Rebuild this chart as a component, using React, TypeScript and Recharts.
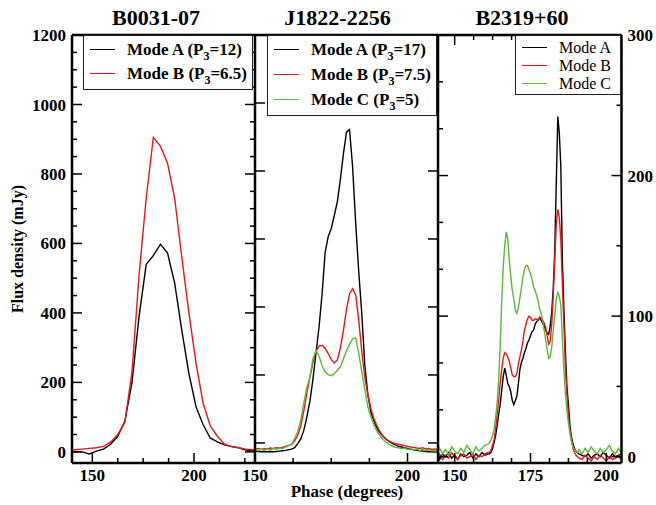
import React from 'react'
import { LineChart, Line, XAxis, YAxis, ReferenceLine } from 'recharts'

const W = 656
const H = 505
const FONT = '"Liberation Serif", "Times New Roman", serif'
const BLACK = '#000000'
const RED = '#e8161c'
const GREEN = '#5cb83a'

// B0031-07 (coarse profile)
const phase1 = [138, 141.5, 145, 148.5, 152, 155.5, 159, 162.5, 166, 169.5, 173, 176.5, 180, 183.5, 187, 190.5, 194, 197.5, 201, 204.5, 208, 211.5, 215, 218.5, 222, 225.5, 229, 230]
const b0031A = [2, 0, 0, -6, 2, 8, 22, 45, 88, 200, 390, 540, 565, 598, 572, 486, 350, 225, 130, 78, 40, 29, 20, 15, 12, 5, 3, 3]
const b0031B = [4, 6, 8, 10, 12, 16, 28, 50, 85, 230, 510, 730, 905, 880, 830, 730, 560, 400, 255, 140, 75, 45, 22, 15, 12, 8, 6, 6]

// J1822-2256
const phase2 = [150, 151, 152, 153, 154, 155, 156, 157, 158, 159, 160, 161, 162, 163, 164, 165, 166, 167, 168, 169, 170, 171, 172, 173, 174, 175, 176, 177, 178, 179, 180, 181, 182, 183, 184, 185, 186, 187, 188, 189, 190, 191, 192, 193, 194, 195, 196, 197, 198, 199, 200, 201, 202, 203, 204, 205, 206, 207, 208, 209, 210]
const j1822A = [-24, -25, -26, -25, -26, -25, -26, -25, -24, -23, -22, -20, -18, -14, -2, 12, 37, 76, 122, 188, 265, 341, 439, 561, 607, 631, 669, 710, 776, 852, 914, 922, 812, 648, 505, 382, 229, 142, 91, 64, 43, 30, 20, 11, 4, -1, -6, -10, -12, -14, -16, -18, -20, -22, -23, -24, -25, -26, -26, -27, -27]
const j1822B = [-18, -16, -19, -17, -18, -15, -17, -14, -15, -13, -10, -7, -4, 6, 23, 50, 94, 147, 193, 237, 270, 285, 287, 278, 263, 245, 235, 244, 280, 331, 393, 439, 454, 436, 362, 270, 193, 142, 101, 71, 50, 33, 20, 11, 5, 1, -2, -4, -6, -8, -10, -12, -13, -15, -16, -14, -18, -17, -19, -18, -20]
const j1822C = [-20, -23, -18, -22, -17, -21, -16, -19, -15, -17, -12, -8, -4, 13, 33, 66, 117, 163, 193, 248, 272, 255, 227, 209, 201, 198, 204, 214, 224, 248, 272, 290, 306, 309, 265, 209, 158, 106, 76, 53, 35, 21, 10, 2, -5, -9, -13, -14, -17, -15, -19, -17, -21, -18, -22, -19, -23, -20, -24, -21, -23]

// B2319+60
const phase3 = [
  144.5, 145, 146, 147, 148, 149, 150, 151, 152, 153, 154, 155, 156, 157, 158, 159, 160, 161,
  161.5, 162, 162.5, 163, 163.5, 164, 164.5, 165, 165.5, 166,
  166.5, 167, 167.5, 168, 168.5, 169, 169.5, 170, 170.5, 171,
  171.5, 172, 172.5, 173, 173.5, 174, 174.5, 175, 175.5, 176,
  176.5, 177, 177.5, 178, 178.5, 179, 179.5, 180, 180.5, 181,
  181.5, 182, 182.5, 183, 183.5, 184, 184.5, 185, 185.5, 186,
  186.5, 187, 187.5, 188, 188.5, 189, 189.5, 190, 190.5, 191,
  192, 193, 194, 195, 196, 197, 198, 199, 200, 201, 202, 203, 204, 205,
]
const b2319A = [
  1, -2, 2, 0, 3, -1, 1, -2, 2, 0, 1, 3, -1, 2, 0, 3, 1, 2,
  2, 3, 6, 10, 15, 22, 30, 37, 47, 57,
  63, 58, 52, 50, 46, 40, 37, 40, 43, 52,
  62, 67, 70, 74, 77, 81, 83, 86, 89, 90,
  94, 96, 97, 99, 97, 95, 93, 90, 88, 87,
  93, 103, 120, 147, 195, 242, 230, 206, 140, 105,
  75, 50, 37, 22, 14, 9, 6, 4, 3, 2,
  1, 0, 2, -1, 1, 2, 0, 3, 1, -1, 2, 0, 1, 2,
]
const b2319B = [
  0, 2, -2, 1, -1, 3, 0, -2, 1, 2, -1, 0, 2, -2, 1, 0, 2, 3,
  3, 5, 8, 12, 20, 30, 40, 52, 62, 70,
  74, 73, 71, 68, 63, 58, 57, 57, 59, 66,
  71, 76, 82, 90, 94, 98, 100, 99, 97, 97,
  98, 98, 97, 99, 99, 97, 95, 92, 86, 80,
  82, 94, 115, 140, 165, 176, 170, 154, 123, 95,
  64, 45, 29, 18, 12, 6, 3, 1, 0, -1,
  -2, 1, -1, -3, 0, -2, 1, -1, -3, 0, -2, -1, 0, -2,
]
const b2319C = [
  3, 6, 2, 5, 1, 7, 4, 2, 6, 3, 8, 5, 2, 7, 4, 6, 8, 9,
  10, 12, 15, 20, 28, 38, 55, 78, 110, 135,
  150, 160, 155, 140, 128, 118, 112, 104, 102, 106,
  113, 120, 128, 133, 136, 136, 133, 130, 126, 121,
  118, 115, 111, 105, 102, 96, 90, 83, 76, 70,
  71, 78, 90, 101, 112, 117, 114, 108, 84, 62,
  45, 33, 24, 17, 11, 7, 5, 4, 3, 5,
  2, 6, 3, 7, 4, 2, 6, 3, 5, 8, 4, 2, 6, 3,
]

// tick values
const x1Major = [150, 200]
const x1Minor = [162.5, 175, 187.5, 212.5, 225]
const x2Major = [150, 200]
const x2Minor = [162.5, 175, 187.5]
const x3Major = [150, 175, 200]
const x3Minor = [156.25, 162.5, 168.75, 181.25, 187.5, 193.75]
const y1Major = [0, 200, 400, 600, 800, 1000, 1200]
const y1Minor = [50, 100, 150, 250, 300, 350, 450, 500, 550, 650, 700, 750, 850, 900, 950, 1050, 1100, 1150]
const y2Major = [0, 200, 400, 600, 800, 1000]
const y3Major = [0, 100, 200, 300]
const y3Minor = [50, 150, 250]
const y3LeftMinor = [33.3, 66.7, 133.3, 166.7, 233.3, 266.7]

const titles = ['B0031-07', 'J1822-2256', 'B2319+60']
const xTitle = 'Phase (degrees)'
const yTitle = 'Flux density (mJy)'

const toRows = (phase: number[], cols: Record<string, number[]>) =>
  phase.map((p, i) => {
    const r: any = { phase: p }
    for (const k in cols) r[k] = cols[k][i]
    return r
  })

const rows1 = toRows(phase1, { a: b0031A, b: b0031B })
const rows2 = toRows(phase2, { a: j1822A, b: j1822B, c: j1822C })
const rows3 = toRows(phase3, { a: b2319A, b: b2319B, c: b2319C })

// one shared plot area (72..621.5 x 35..463); each panel's axis domain is widened so
// that its own phase range lands in its third of the plot
const PLOT_H = 428
const panels: any[] = [
  {
    id: '1', title: titles[0], titleX: 156, rows: rows1,
    series: [
      { key: 'a', name: 'Mode A', p3: '12', color: BLACK },
      { key: 'b', name: 'Mode B', p3: '6.5', color: RED },
    ],
    xDomain: [140, 410.25], xEnd: 230, xMajor: x1Major, xMinor: x1Minor,
    yDomain: [-32, 1200], lMajor: y1Major, lMinor: y1Minor, rMajor: y1Major, rMinor: y1Minor,
    plotW: 183,
    legend: { left: 83, top: 35, width: 170, height: 55, rows: [14, 38], rowH: 20, size: 17, bold: true },
  },
  {
    id: '2', title: titles[1], titleX: 337.5, rows: rows2,
    series: [
      { key: 'a', name: 'Mode A', p3: '17', color: BLACK },
      { key: 'b', name: 'Mode B', p3: '7.5', color: RED },
      { key: 'c', name: 'Mode C', p3: '5', color: GREEN },
    ],
    xDomain: [90, 270.16], xEnd: 210, xMajor: x2Major, xMinor: x2Minor,
    yDomain: [-59, 1200], lMajor: y2Major, lMinor: [], rMajor: y2Major, rMinor: [],
    plotW: 183,
    legend: { left: 267, top: 35, width: 170, height: 81, rows: [14, 39, 64], rowH: 20, size: 17, bold: true },
  },
  {
    id: '3', title: titles[2], titleX: 522, rows: rows3,
    series: [
      { key: 'a', name: 'Mode A', color: BLACK },
      { key: 'b', name: 'Mode B', color: RED },
      { key: 'c', name: 'Mode C', color: GREEN },
    ],
    xDomain: [23.83, 205], xEnd: 205, xMajor: x3Major, xMinor: x3Minor,
    yDomain: [-4.5, 300], lMajor: y3Major, lMinor: y3LeftMinor, rMajor: y3Major, rMinor: y3Minor,
    plotW: 183.5,
    legend: { left: 515, top: 35, width: 106, height: 60, rows: [12, 30, 48], rowH: 18, size: 16, bold: false },
  },
]

const txt = { fontFamily: FONT, fontSize: 17, fontWeight: 'bold' as const, fill: '#000' }

// x tick: inward marks at bottom and top edges, label under the bottom edge for majors
const xTick = (p: any, bottomFromY: number) => (props: any) => {
  const x = Number(props.x)
  const v = props.payload.value
  const yb = Number(props.y) + bottomFromY
  const yt = yb - PLOT_H
  const major = p.xMajor.includes(v)
  const len = major ? 10 : 5
  return (
    <g>
      <path d={`M${x},${yb}V${yb - len}`} stroke="#000" strokeWidth={1.5} fill="none" />
      <path d={`M${x},${yt}V${yt + len}`} stroke="#000" strokeWidth={1.5} fill="none" />
      {major && <text x={x} y={yb + 6} dy="0.71em" textAnchor="middle" {...txt}>{v}</text>}
    </g>
  )
}

// y tick: inward marks on the panel's left and right edges, optional labels
const yTick = (p: any, leftFromX: number, labelSide: string) => (props: any) => {
  const x = Number(props.x)
  const y = Number(props.y)
  const v = props.payload.value
  const xl = x + leftFromX
  const xr = xl + p.plotW
  const lMaj = p.lMajor.includes(v)
  const rMaj = p.rMajor.includes(v)
  const onL = lMaj || p.lMinor.includes(v)
  const onR = rMaj || p.rMinor.includes(v)
  return (
    <g>
      {onL && <path d={`M${xl},${y}H${xl + (lMaj ? 10 : 5)}`} stroke="#000" strokeWidth={1.5} fill="none" />}
      {onR && <path d={`M${xr},${y}H${xr - (rMaj ? 10 : 5)}`} stroke="#000" strokeWidth={1.5} fill="none" />}
      {labelSide === 'left' && lMaj && <text x={x} y={y} dy="0.355em" textAnchor="end" {...txt}>{v}</text>}
      {labelSide === 'right' && rMaj && <text x={x} y={y} dy="0.355em" textAnchor="start" {...txt}>{v}</text>}
    </g>
  )
}

const yTicksOf = (p: any) =>
  Array.from(new Set([...p.lMajor, ...p.lMinor, ...p.rMajor, ...p.rMinor])).sort((a: number, b: number) => a - b)

const LegendBox = ({ p }: { p: any }) => {
  const lg = p.legend
  const h = lg.rowH
  return (
    <div style={{ position: 'absolute', left: lg.left, top: lg.top, width: lg.width, height: lg.height, boxSizing: 'border-box', border: '1.5px solid #222', background: '#fff' }}>
      {p.series.map((s: any, i: number) => (
        <div key={s.key} style={{ position: 'absolute', left: 0, top: lg.rows[i] - h / 2, height: h, width: lg.width - 4 }}>
          <div style={{ position: 'absolute', left: 6, width: 25, top: h / 2 - 1, height: 0, borderTop: `1.5px solid ${s.color}` }} />
          <span style={{ position: 'absolute', left: 43, top: 0, lineHeight: h + 'px', fontFamily: FONT, fontSize: lg.size, fontWeight: lg.bold ? 'bold' : 'normal', whiteSpace: 'nowrap', color: '#000' }}>
            {s.name}
            {s.p3 && (
              <>
                {' (P'}
                <span style={{ fontSize: 12, position: 'relative', top: 5 }}>3</span>
                {'=' + s.p3 + ')'}
              </>
            )}
          </span>
        </div>
      ))}
    </div>
  )
}

const frame = { stroke: '#000', strokeWidth: 2.5 }
const titleStyle = { position: 'absolute' as const, fontFamily: FONT, fontWeight: 'bold' as const, color: '#000', whiteSpace: 'nowrap' as const }

export default function App() {
  const [p1, p2, p3] = panels
  return (
    <div style={{ position: 'absolute', left: 0, top: 0, width: W, height: H, background: '#fff' }}>
      <LineChart width={W} height={H} margin={{ top: 0, right: 4.5, bottom: 0, left: 22 }}>
        {/* panel 1: bottom axis (frame bottom), left axis with labels */}
        <XAxis xAxisId="x1" type="number" dataKey="phase" domain={p1.xDomain} allowDataOverflow interval={0}
          axisLine={frame} tickLine={false} tickSize={0} tickMargin={6} height={42}
          ticks={[...p1.xMajor, ...p1.xMinor]} tick={xTick(p1, -6)} />
        <YAxis yAxisId="y1" type="number" domain={p1.yDomain} allowDataOverflow interval={0}
          axisLine={frame} tickLine={false} tickSize={0} tickMargin={6} width={50}
          ticks={yTicksOf(p1)} tick={yTick(p1, 6, 'left')} />
        {/* panel 2: mirrored axes, marks only */}
        <XAxis xAxisId="x2" type="number" dataKey="phase" domain={p2.xDomain} allowDataOverflow interval={0} mirror
          axisLine={false} tickLine={false} tickSize={0} tickMargin={0} height={1}
          ticks={[...p2.xMajor, ...p2.xMinor]} tick={xTick(p2, 0)} />
        <YAxis yAxisId="y2" type="number" domain={p2.yDomain} allowDataOverflow interval={0} mirror
          axisLine={false} tickLine={false} tickSize={0} tickMargin={0} width={1}
          ticks={yTicksOf(p2)} tick={yTick(p2, p1.plotW, 'none')} />
        {/* panel 3: top axis (frame top), right axis with labels (frame right) */}
        <XAxis xAxisId="x3" type="number" dataKey="phase" domain={p3.xDomain} allowDataOverflow interval={0} orientation="top"
          axisLine={frame} tickLine={false} tickSize={0} tickMargin={0} height={35}
          ticks={[...p3.xMajor, ...p3.xMinor]} tick={xTick(p3, PLOT_H)} />
        <YAxis yAxisId="y3" type="number" domain={p3.yDomain} allowDataOverflow interval={0} orientation="right"
          axisLine={frame} tickLine={false} tickSize={0} tickMargin={6} width={30}
          ticks={yTicksOf(p3)} tick={yTick(p3, -6 - p3.plotW, 'right')} />

        {panels.map((p) =>
          p.series.map((s: any) => (
            <Line key={p.id + s.key} data={p.rows} xAxisId={'x' + p.id} yAxisId={'y' + p.id} type="linear" dataKey={s.key}
              stroke={s.color} strokeWidth={1.4} dot={false} isAnimationActive={false} />
          ))
        )}

        {/* borders between panels */}
        <ReferenceLine xAxisId="x1" yAxisId="y1" x={p1.xEnd} stroke="#000" strokeWidth={2.5} ifOverflow="visible" />
        <ReferenceLine xAxisId="x2" yAxisId="y2" x={p2.xEnd} stroke="#000" strokeWidth={2.5} ifOverflow="visible" />
      </LineChart>

      {panels.map((p) => <LegendBox key={p.id + 'lg'} p={p} />)}
      {panels.map((p) => (
        <div key={p.id + 't'} style={{ ...titleStyle, left: p.titleX - 80, width: 160, top: 5, textAlign: 'center', fontSize: 22, lineHeight: '25px' }}>{p.title}</div>
      ))}
      <div style={{ ...titleStyle, left: 247, width: 200, top: 482, textAlign: 'center', fontSize: 17, lineHeight: '20px' }}>{xTitle}</div>
      <div style={{ ...titleStyle, left: 17.5 - 80, top: 249 - 10, width: 160, textAlign: 'center', fontSize: 16, lineHeight: '20px', transform: 'rotate(-90deg)' }}>{yTitle}</div>
    </div>
  )
}
